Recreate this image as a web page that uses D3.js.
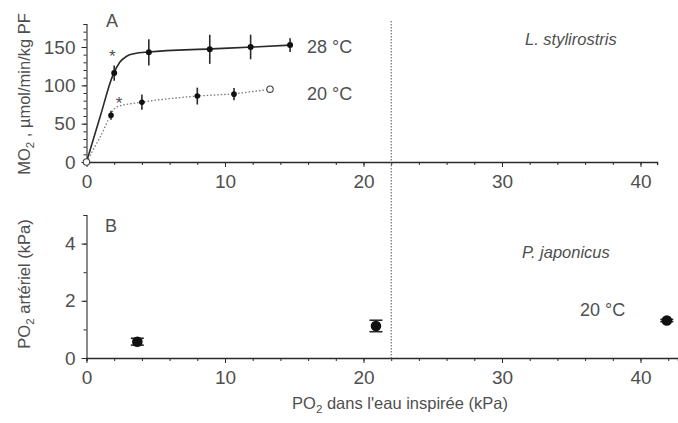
<!DOCTYPE html>
<html><head><meta charset="utf-8">
<script src="https://cdn.jsdelivr.net/npm/d3@7"></script>
<style>
body{margin:0;background:#fff;}
text{font-family:"Liberation Sans",Arial,sans-serif;fill:#4f4f4f;}
</style></head>
<body><svg id="c" width="678" height="423"></svg>
<script>
// ---- data ----
const xTicks = [0, 10, 20, 30, 40];
const yTicksA = [0, 50, 100, 150];
const yTicksB = [0, 2, 4];
// Panel A, 28 °C (means with error)
const pO2_28 = [2.0, 4.5, 8.9, 11.85, 14.7];
const mo2_28 = [116, 143, 147, 150, 152.5];
const err_28 = [10, 17, 19, 16, 9];
// Panel A, 20 °C
const pO2_20 = [1.77, 4.0, 8.0, 10.65];
const mo2_20 = [61, 78, 86, 88.5];
const err_20 = [6, 10, 11, 8];
// open symbols
const openX = [0, 13.25];
const openY = [0, 95];
// fitted curves
const fit28X = [0, 1, 1.9, 2.4, 2.9, 3.5, 4.5, 9, 12, 14.7];
const fit28Y = [0, 60, 113, 130, 138, 141.5, 143.5, 147.5, 150, 152.5];
const fit20X = [0, 1, 2.2, 4, 8, 10.65, 13.25];
const fit20Y = [0, 33, 72, 78, 86, 89, 95];
// significance stars
const starX = [1.87, 2.35];
const starY = [141, 79.5];
// Panel B
const artX = [3.67, 20.9, 41.9];
const artY = [0.57, 1.12, 1.31];
const artErrY = [0.12, 0.2, 0.04];
const artErrX = [0, 0, 0.35];
const refLine = 22;

// ---- scales ----
const svg = d3.select("#c");
const xA = d3.scaleLinear().domain([0, 41.2]).range([86.5, 657.1]);
const xB = d3.scaleLinear().domain([0, 42.7]).range([86.5, 677.9]);
const yA = d3.scaleLinear().domain([0, 180]).range([162, 24]);
const yB = d3.scaleLinear().domain([0, 5]).range([358, 215]);
const ink = "#2a2a2a";

function drawAxes(x, y, yMajor, yMinorStep, yMax) {
  const g = svg.append("g");
  g.append("g").attr("transform", `translate(0,${y(0)})`)
    .call(d3.axisBottom(x).tickValues(d3.range(0, x.domain()[1], 2)).tickSize(3).tickFormat(""))
    .call(a => a.select(".domain").attr("stroke", ink).attr("stroke-width", 1.3))
    .call(a => a.selectAll(".tick line").attr("stroke", ink));
  g.append("g").attr("transform", `translate(0,${y(0)})`)
    .call(d3.axisBottom(x).tickValues(xTicks).tickSize(5).tickPadding(8).tickFormat(d3.format("d")))
    .call(a => a.select(".domain").remove())
    .call(a => a.selectAll(".tick line").attr("stroke", ink))
    .call(a => a.selectAll("text").attr("font-size", 19).style("font-family", "Liberation Sans").attr("fill", "#4f4f4f"));
  g.append("g").attr("transform", `translate(${x(0)},0)`)
    .call(d3.axisLeft(y).tickValues(d3.range(0, yMax + 0.001, yMinorStep)).tickSize(3).tickFormat(""))
    .call(a => a.select(".domain").attr("stroke", ink).attr("stroke-width", 1.1))
    .call(a => a.selectAll(".tick line").attr("stroke", ink));
  g.append("g").attr("transform", `translate(${x(0)},0)`)
    .call(d3.axisLeft(y).tickValues(yMajor).tickSize(5).tickPadding(6).tickFormat(d3.format("d")))
    .call(a => a.select(".domain").remove())
    .call(a => a.selectAll(".tick line").attr("stroke", ink))
    .call(a => a.selectAll("text").attr("font-size", 19).style("font-family", "Liberation Sans").attr("fill", "#4f4f4f"));
}
drawAxes(xA, yA, yTicksA, 10, 180);
drawAxes(xB, yB, yTicksB, 1, 5);

// reference dotted vertical line
svg.append("line").attr("x1", xA(refLine)).attr("x2", xA(refLine))
  .attr("y1", 21).attr("y2", yB(0) + 2)
  .attr("stroke", "#555").attr("stroke-width", 1).attr("stroke-dasharray", "1.5,1.5");

// ---- panel A ----
const line = d3.line().curve(d3.curveMonotoneX);
svg.append("path")
  .attr("d", line(fit28X.map((v, i) => [xA(v), yA(fit28Y[i])])))
  .attr("fill", "none").attr("stroke", ink).attr("stroke-width", 1.6);
svg.append("path")
  .attr("d", line(fit20X.map((v, i) => [xA(v), yA(fit20Y[i])])))
  .attr("fill", "none").attr("stroke", "#777").attr("stroke-width", 1.3).attr("stroke-dasharray", "1.5,2");

function errPoints(xs, ys, es, r) {
  const g = svg.append("g");
  xs.forEach((v, i) => {
    g.append("line").attr("x1", xA(v)).attr("x2", xA(v))
      .attr("y1", yA(ys[i] - es[i])).attr("y2", yA(ys[i] + es[i]))
      .attr("stroke", ink).attr("stroke-width", 1.6);
    g.append("circle").attr("cx", xA(v)).attr("cy", yA(ys[i])).attr("r", r).attr("fill", "#111");
  });
}
errPoints(pO2_28, mo2_28, err_28, 3);
errPoints(pO2_20, mo2_20, err_20, 2.8);

openX.forEach((v, i) => {
  svg.append("circle").attr("cx", xA(v)).attr("cy", yA(openY[i])).attr("r", 3.2)
    .attr("fill", "#fff").attr("stroke", "#444").attr("stroke-width", 1.1);
});
starX.forEach((v, i) => {
  svg.append("text").attr("x", xA(v)).attr("y", yA(starY[i]) + 8)
    .attr("text-anchor", "middle").attr("font-size", 17).text("*");
});

// ---- panel B ----
artX.forEach((v, i) => {
  const cx = xB(v), cy = yB(artY[i]);
  if (artErrY[i] > 0) {
    const y1 = yB(artY[i] - artErrY[i]), y2 = yB(artY[i] + artErrY[i]);
    svg.append("line").attr("x1", cx).attr("x2", cx).attr("y1", y1).attr("y2", y2).attr("stroke", ink).attr("stroke-width", 1.4);
    [y1, y2].forEach(yy => svg.append("line").attr("x1", cx - 6.5).attr("x2", cx + 6.5).attr("y1", yy).attr("y2", yy).attr("stroke", ink).attr("stroke-width", 1.6));
  }
  if (artErrX[i] > 0) {
    svg.append("line").attr("x1", xB(v - artErrX[i])).attr("x2", xB(v + artErrX[i])).attr("y1", cy).attr("y2", cy).attr("stroke", ink).attr("stroke-width", 2);
  }
  svg.append("circle").attr("cx", cx).attr("cy", cy).attr("r", 5.3).attr("fill", "#111");
});

// ---- texts ----
function t(x, y, s, opt = {}) {
  const e = svg.append("text").attr("x", x).attr("y", y).attr("font-size", opt.size || 18)
    .attr("text-anchor", opt.anchor || "start");
  if (opt.italic) e.attr("font-style", "italic");
  return e.text(s);
}
t(106, 27, "A", {size: 18});
t(105, 232, "B", {size: 18});
t(307, 53, "28 °C", {size: 18});
t(307, 100, "20 °C", {size: 18});
t(525, 45, "L. stylirostris", {size: 16.5, italic: true});
t(522, 258, "P. japonicus", {size: 16.5, italic: true});
t(580, 316, "20 °C", {size: 18});

function sub(x, y, parts, rot, size) {
  const e = svg.append("text").attr("x", x).attr("y", y).attr("font-size", size)
    .attr("text-anchor", "middle");
  if (rot) e.attr("transform", `rotate(-90,${x},${y})`);
  let shift = 0;
  parts.forEach(p => {
    const ts = e.append("tspan").text(p.s);
    if (p.sub) { ts.attr("dy", 4).attr("font-size", size * 0.7); shift = -4; }
    else if (shift) { ts.attr("dy", shift); shift = 0; }
  });
}
sub(30, 94, [{s: "MO"}, {s: "2", sub: true}, {s: " , µmol/min/kg PF"}], true, 16.5);
sub(30, 284, [{s: "PO"}, {s: "2", sub: true}, {s: " artériel (kPa)"}], true, 16.5);
sub(400, 409, [{s: "PO"}, {s: "2", sub: true}, {s: " dans l'eau inspirée (kPa)"}], false, 16.5);
</script></body></html>
